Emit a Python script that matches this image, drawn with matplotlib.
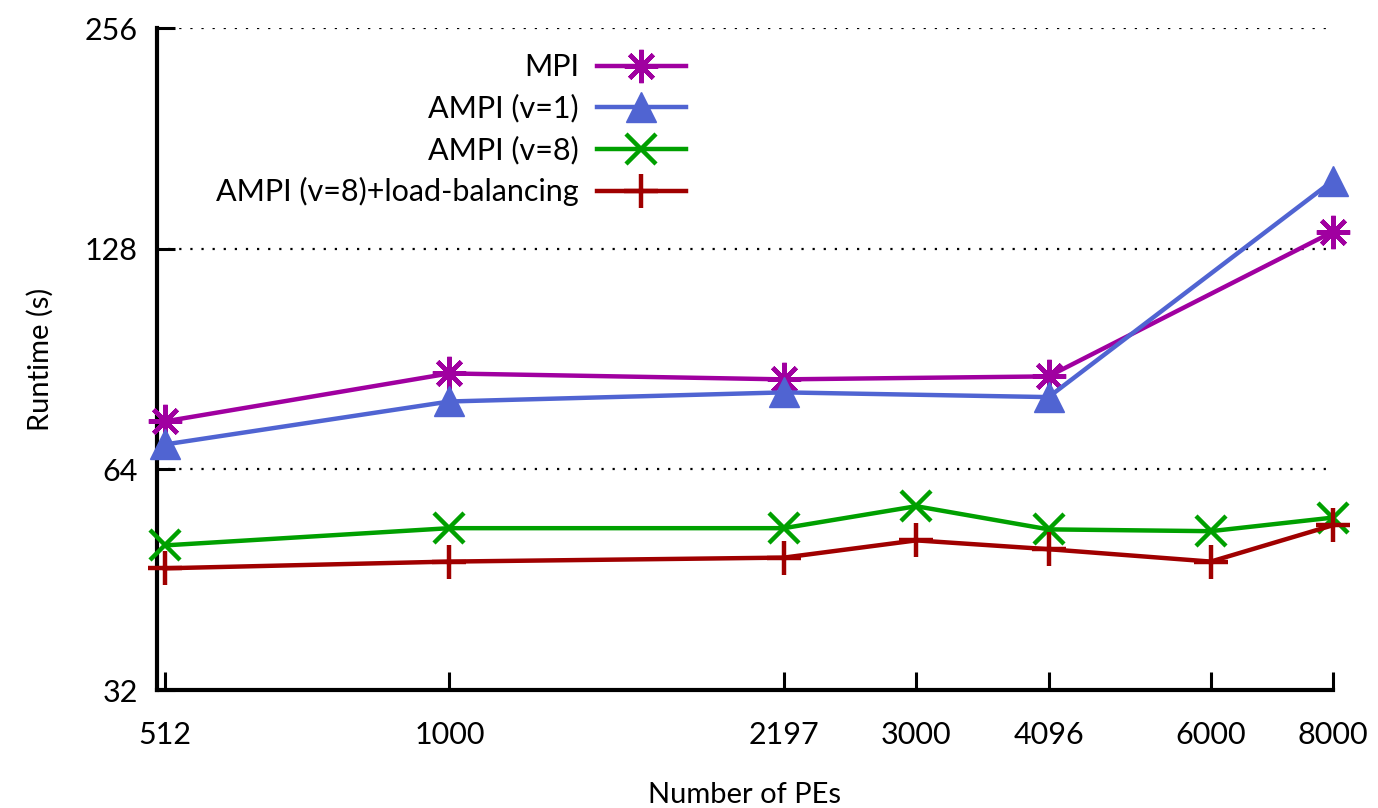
import matplotlib
matplotlib.use("Agg")
import matplotlib.pyplot as plt
from matplotlib.ticker import FixedLocator, NullLocator, FixedFormatter

plt.rcParams['font.family'] = ['Lato', 'DejaVu Sans']

pes = [512, 1000, 2197, 3000, 4096, 6000, 8000]
x_ticks = [512, 1000, 2197, 3000, 4096, 6000, 8000]
y_ticks = [32, 64, 128, 256]

mpi_x = [512, 1000, 2197, 4096, 8000]
mpi_y = [74.4, 86.5, 84.9, 85.7, 135.0]
ampi1_x = [512, 1000, 2197, 4096, 8000]
ampi1_y = [69.2, 79.2, 81.5, 80.3, 158.5]
ampi8_x = pes
ampi8_y = [50.4, 53.2, 53.2, 57.0, 53.0, 52.7, 55.0]
ampilb_x = pes
ampilb_y = [46.9, 47.9, 48.5, 51.2, 49.8, 47.9, 53.7]

fig = plt.figure(figsize=(13.78, 8.08), dpi=100)
ax = fig.add_axes([157/1378, 1-690/808, (1333-157)/1378, (690-28)/808])

ax.set_xscale('log')
ax.set_yscale('log', base=2)
ax.set_xlim(502.5, 8000)
ax.set_ylim(32, 256)

for yv in y_ticks[1:]:
    ax.axhline(yv, color='black', lw=1.6, ls=(0, (1, 4)), zorder=1)

lw = 3.2
ax.plot(mpi_x, mpi_y, color='#a000a0', lw=lw, marker=(8, 2, 0), ms=24, mew=3.2,
        label='MPI', zorder=3, clip_on=False)
ax.plot(ampi1_x, ampi1_y, color='#5064d2', lw=lw, marker='^', ms=22, mew=1,
        label='AMPI (v=1)', zorder=3, clip_on=False)
ax.plot(ampi8_x, ampi8_y, color='#00a000', lw=lw, marker='x', ms=22, mew=3.2,
        label='AMPI (v=8)', zorder=3, clip_on=False)
ax.plot(ampilb_x, ampilb_y, color='#a00000', lw=lw, marker='+', ms=25, mew=3.2,
        label='AMPI (v=8)+load-balancing', zorder=3, clip_on=False)

ax.xaxis.set_major_locator(FixedLocator(x_ticks))
ax.xaxis.set_major_formatter(FixedFormatter([str(v) for v in x_ticks]))
ax.xaxis.set_minor_locator(NullLocator())
ax.yaxis.set_major_locator(FixedLocator(y_ticks))
ax.yaxis.set_major_formatter(FixedFormatter([str(v) for v in y_ticks]))
ax.yaxis.set_minor_locator(NullLocator())

for s in ['top', 'right']:
    ax.spines[s].set_visible(False)
for s in ['left', 'bottom']:
    ax.spines[s].set_linewidth(3)

ax.tick_params(axis='both', direction='in', length=13, width=2.2, labelsize=22)
ax.tick_params(axis='x', pad=22)
ax.tick_params(axis='y', pad=14)

ax.set_xlabel('Number of PEs', fontsize=21, labelpad=24)
ax.set_ylabel('Runtime (s)', fontsize=21, labelpad=22)

leg = ax.legend(loc='upper right', bbox_to_anchor=(701/1378, 1-38/808),
                bbox_transform=fig.transFigure, frameon=False, markerfirst=False,
                fontsize=22, handlelength=2.9, labelspacing=0.42, borderpad=0,
                handletextpad=0.6)

fig.savefig('out.png', dpi=100)
